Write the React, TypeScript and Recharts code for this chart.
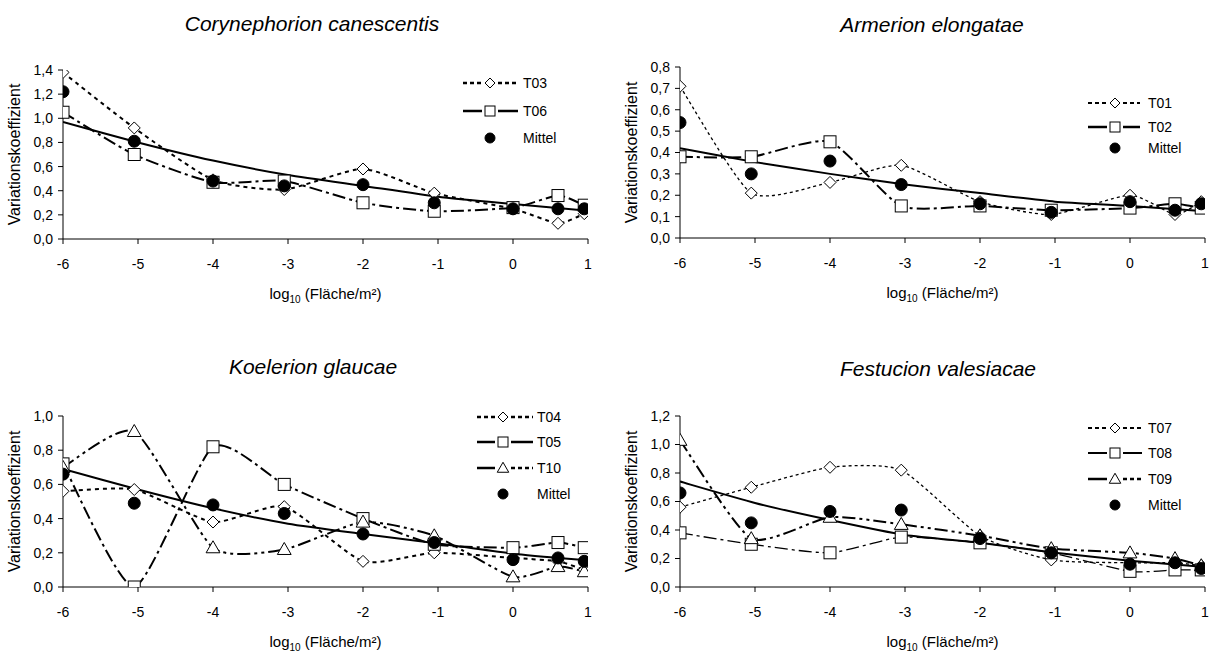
import React from 'react';
import { LineChart, Line, XAxis, YAxis } from 'recharts';

const FONT = '"Liberation Sans", Arial, Helvetica, sans-serif';

// x positions of the sampled plot sizes (log10 area)
const xs = [-6, -5.05, -4, -3.05, -2, -1.05, 0, 0.6, 0.95];
const fitXs = [-6, -5, -4, -3, -2, -1, 0, 1];
const xTicks = [-6, -5, -4, -3, -2, -1, 0, 1];

// Panel 1: Corynephorion canescentis
const t03 = [1.38, 0.92, 0.49, 0.41, 0.58, 0.38, 0.25, 0.13, 0.21];
const t06 = [1.05, 0.7, 0.47, 0.48, 0.3, 0.23, 0.26, 0.36, 0.28];
const mittel1 = [1.22, 0.81, 0.48, 0.44, 0.45, 0.3, 0.25, 0.25, 0.25];
const fit1 = [0.97, 0.8, 0.65, 0.53, 0.44, 0.35, 0.29, 0.235];
const yTicks1 = [0, 0.2, 0.4, 0.6, 0.8, 1.0, 1.2, 1.4];

// Panel 2: Armerion elongatae
const t01 = [0.71, 0.21, 0.26, 0.34, 0.17, 0.11, 0.2, 0.11, 0.17];
const t02 = [0.38, 0.38, 0.45, 0.15, 0.15, 0.13, 0.14, 0.16, 0.14];
const mittel2 = [0.54, 0.3, 0.36, 0.25, 0.16, 0.12, 0.17, 0.13, 0.16];
const fit2 = [0.42, 0.355, 0.3, 0.25, 0.21, 0.17, 0.15, 0.125];
const yTicks2 = [0, 0.1, 0.2, 0.3, 0.4, 0.5, 0.6, 0.7, 0.8];

// Panel 3: Koelerion glaucae
const t04 = [0.56, 0.57, 0.38, 0.47, 0.15, 0.2, 0.17, 0.15, 0.1];
const t05 = [0.72, 0.0, 0.82, 0.6, 0.4, 0.25, 0.23, 0.26, 0.23];
const t10 = [0.7, 0.91, 0.23, 0.22, 0.38, 0.3, 0.06, 0.12, 0.09];
const mittel3 = [0.66, 0.49, 0.48, 0.43, 0.31, 0.26, 0.16, 0.17, 0.15];
const fit3 = [0.69, 0.57, 0.46, 0.37, 0.31, 0.255, 0.195, 0.155];
const yTicks3 = [0, 0.2, 0.4, 0.6, 0.8, 1.0];

// Panel 4: Festucion valesiacae
const t07 = [0.56, 0.7, 0.84, 0.82, 0.36, 0.19, 0.17, 0.17, 0.15];
const t08 = [0.38, 0.3, 0.24, 0.35, 0.31, 0.24, 0.11, 0.12, 0.12];
const t09 = [1.03, 0.34, 0.49, 0.44, 0.36, 0.27, 0.24, 0.2, 0.15];
const mittel4 = [0.66, 0.45, 0.53, 0.54, 0.34, 0.24, 0.16, 0.17, 0.13];
const fit4 = [0.74, 0.59, 0.47, 0.365, 0.31, 0.24, 0.185, 0.14];
const yTicks4 = [0, 0.2, 0.4, 0.6, 0.8, 1.0, 1.2];

type Shape = 'diamond' | 'square' | 'triangle' | 'circle';

interface Series {
  name: string;
  values: number[];
  shape: Shape;
  dash?: string;
  width: number;
  legLeft: string;
  legRight: string;
}

interface Panel {
  title: string;
  titleX: number;
  titleY: number;
  left: number;
  top: number;
  width: number;
  height: number;
  margin: { top: number; right: number; bottom: number; left: number };
  yMax: number;
  yTicks: number[];
  series: Series[];
  mittel: number[];
  fit: number[];
  leg: { rows: number[]; x0: number; x1: number; mx: number; tx: number };
}

const toPts = (x: number[], y: number[]) => x.map((v, i) => ({ x: v, y: y[i] }));

// Mildly smoothed line through the points (spreadsheet-like)
const smoothCurve: any = (context: any) => {
  let pts: number[][] = [];
  return {
    areaStart() {},
    areaEnd() {},
    lineStart() {
      pts = [];
    },
    point(x: number, y: number) {
      pts.push([+x, +y]);
    },
    lineEnd() {
      const n = pts.length;
      if (!n) return;
      context.moveTo(pts[0][0], pts[0][1]);
      for (let i = 0; i < n - 1; i++) {
        const p0 = pts[Math.max(i - 1, 0)];
        const p1 = pts[i];
        const p2 = pts[i + 1];
        const p3 = pts[Math.min(i + 2, n - 1)];
        const t = 10;
        context.bezierCurveTo(
          p1[0] + (p2[0] - p0[0]) / t,
          p1[1] + (p2[1] - p0[1]) / t,
          p2[0] - (p3[0] - p1[0]) / t,
          p2[1] - (p3[1] - p1[1]) / t,
          p2[0],
          p2[1]
        );
      }
    },
  };
};

function markerEl(shape: Shape, cx: number, cy: number, s: number, key?: string) {
  if (shape === 'diamond') {
    return (
      <path key={key} d={`M${cx},${cy - s} L${cx + s},${cy} L${cx},${cy + s} L${cx - s},${cy} Z`} fill="#fff" stroke="#000" strokeWidth={1} />
    );
  }
  if (shape === 'square') {
    return <rect key={key} x={cx - s} y={cy - s} width={2 * s} height={2 * s} fill="#fff" stroke="#000" strokeWidth={1} />;
  }
  if (shape === 'triangle') {
    const h = s * 1.15;
    return (
      <path key={key} d={`M${cx},${cy - h} L${cx + h},${cy + s * 0.85} L${cx - h},${cy + s * 0.85} Z`} fill="#fff" stroke="#000" strokeWidth={1} />
    );
  }
  return <circle key={key} cx={cx} cy={cy} r={s} fill="#000" stroke="#000" strokeWidth={1} />;
}

const makeDot = (shape: Shape, s: number) => (props: any) => {
  const { cx, cy, index } = props;
  const key = `${shape}-${index}`;
  if (cx == null || cy == null) return <g key={key} />;
  return markerEl(shape, cx, cy, s, key);
};

const DIAMOND_DASH = '4 4';
const SQUARE_DASH = '13 4 3 4';
const TRI_DASH = '13 4 3 4 3 4';

const panels: Panel[] = [
  {
    title: 'Corynephorion canescentis',
    titleX: 312,
    titleY: 31,
    left: 0,
    top: 0,
    width: 606,
    height: 326,
    margin: { top: 70, right: 18, bottom: 27, left: 0 },
    yMax: 1.4,
    yTicks: yTicks1,
    series: [
      { name: 'T03', values: t03, shape: 'diamond', dash: DIAMOND_DASH, width: 2, legLeft: 'dash', legRight: 'dash' },
      { name: 'T06', values: t06, shape: 'square', dash: SQUARE_DASH, width: 2, legLeft: 'solid', legRight: 'solid' },
    ],
    mittel: mittel1,
    fit: fit1,
    leg: { rows: [83, 111, 138], x0: 463, x1: 518, mx: 490, tx: 523 },
  },
  {
    title: 'Armerion elongatae',
    titleX: 932,
    titleY: 32,
    left: 617,
    top: 0,
    width: 596,
    height: 326,
    margin: { top: 67, right: 8, bottom: 28, left: 0 },
    yMax: 0.8,
    yTicks: yTicks2,
    series: [
      { name: 'T01', values: t01, shape: 'diamond', dash: '3 3', width: 1.3, legLeft: 'dash', legRight: 'dash' },
      { name: 'T02', values: t02, shape: 'square', dash: SQUARE_DASH, width: 2, legLeft: 'solid', legRight: 'solid' },
    ],
    mittel: mittel2,
    fit: fit2,
    leg: { rows: [103, 127, 148], x0: 1088, x1: 1140, mx: 1115, tx: 1148 },
  },
  {
    title: 'Koelerion glaucae',
    titleX: 313,
    titleY: 374,
    left: 0,
    top: 346,
    width: 606,
    height: 306,
    margin: { top: 70, right: 18, bottom: 5, left: 0 },
    yMax: 1.0,
    yTicks: yTicks3,
    series: [
      { name: 'T04', values: t04, shape: 'diamond', dash: DIAMOND_DASH, width: 2, legLeft: 'dash', legRight: 'dash' },
      { name: 'T05', values: t05, shape: 'square', dash: SQUARE_DASH, width: 2, legLeft: 'solid', legRight: 'solid' },
      { name: 'T10', values: t10, shape: 'triangle', dash: TRI_DASH, width: 2, legLeft: 'solid', legRight: 'dash' },
    ],
    mittel: mittel3,
    fit: fit3,
    leg: { rows: [417, 442, 468, 494], x0: 477, x1: 533, mx: 503, tx: 537 },
  },
  {
    title: 'Festucion valesiacae',
    titleX: 938,
    titleY: 376,
    left: 617,
    top: 346,
    width: 596,
    height: 306,
    margin: { top: 70, right: 8, bottom: 5, left: 0 },
    yMax: 1.2,
    yTicks: yTicks4,
    series: [
      { name: 'T07', values: t07, shape: 'diamond', dash: '3 3', width: 1.3, legLeft: 'dash', legRight: 'dash' },
      { name: 'T08', values: t08, shape: 'square', dash: SQUARE_DASH, width: 1.3, legLeft: 'solid', legRight: 'solid' },
      { name: 'T09', values: t09, shape: 'triangle', dash: TRI_DASH, width: 2, legLeft: 'solid', legRight: 'dash' },
    ],
    mittel: mittel4,
    fit: fit4,
    leg: { rows: [428, 453, 479, 505], x0: 1088, x1: 1142, mx: 1115, tx: 1148 },
  },
];

const fmtY = (v: number) => v.toFixed(1).replace('.', ',');

const XLabel = (props: any) => {
  const vb = props.viewBox || {};
  const cx = (vb.x || 0) + (vb.width || 0) / 2;
  const y = (vb.y || 0) + 60;
  return (
    <text x={cx} y={y} textAnchor="middle" fontFamily={FONT} fontSize={15} fill="#000">
      log
      <tspan fontSize={10} dy={4}>10</tspan>
      <tspan dy={-4}> (Fläche/m²)</tspan>
    </text>
  );
};

const YLabel = (props: any) => {
  const vb = props.viewBox || {};
  const x = (vb.x || 0) + 20;
  const cy = (vb.y || 0) + (vb.height || 0) / 2;
  return (
    <text x={x} y={cy} transform={`rotate(-90 ${x} ${cy})`} textAnchor="middle" fontFamily={FONT} fontSize={16} fill="#000">
      Variationskoeffizient
    </text>
  );
};

function PanelChart({ p }: { p: Panel }) {
  return (
    <div style={{ position: 'absolute', left: p.left, top: p.top, width: p.width, height: p.height }}>
      <LineChart width={p.width} height={p.height} margin={p.margin}>
        <XAxis
          type="number"
          dataKey="x"
          domain={[-6, 1]}
          ticks={xTicks}
          interval={0}
          allowDataOverflow
          height={60}
          tickSize={5}
          tickMargin={15}
          axisLine={{ stroke: '#000', strokeWidth: 1 }}
          tickLine={{ stroke: '#000', strokeWidth: 1 }}
          tick={{ fill: '#000', fontSize: 14, fontFamily: FONT }}
          label={<XLabel />}
        />
        <YAxis
          type="number"
          dataKey="y"
          domain={[0, p.yMax]}
          ticks={p.yTicks}
          interval={0}
          allowDataOverflow
          width={63}
          tickSize={5}
          tickMargin={5}
          tickFormatter={fmtY}
          axisLine={{ stroke: '#000', strokeWidth: 1 }}
          tickLine={{ stroke: '#000', strokeWidth: 1 }}
          tick={{ fill: '#000', fontSize: 14, fontFamily: FONT }}
          label={<YLabel />}
        />
        <Line
          data={toPts(fitXs, p.fit)}
          dataKey="y"
          type={smoothCurve}
          stroke="#000"
          strokeWidth={2}
          dot={false}
          activeDot={false}
          isAnimationActive={false}
          name="fit"
        />
        {p.series.map((s) => (
          <Line
            key={s.name}
            data={toPts(xs, s.values)}
            dataKey="y"
            name={s.name}
            type={smoothCurve}
            stroke="#000"
            strokeWidth={s.width}
            strokeDasharray={s.dash}
            dot={makeDot(s.shape, 6)}
            activeDot={false}
            isAnimationActive={false}
          />
        ))}
        <Line
          data={toPts(xs, p.mittel)}
          dataKey="y"
          name="Mittel"
          type="linear"
          stroke="none"
          dot={makeDot('circle', 6)}
          activeDot={false}
          isAnimationActive={false}
        />
      </LineChart>
    </div>
  );
}

function LegendRows({ p }: { p: Panel }) {
  const { rows, x0, x1, mx, tx } = p.leg;
  const items = [
    ...p.series.map((s) => ({ name: s.name, shape: s.shape, left: s.legLeft, right: s.legRight, w: s.width })),
    { name: 'Mittel', shape: 'circle' as Shape, left: 'none', right: 'none', w: 0 },
  ];
  const seg = (style: string, a: number, b: number, y: number, w: number, k: string) => {
    if (style === 'none') return null;
    return (
      <line
        key={k}
        x1={a}
        y1={y}
        x2={b}
        y2={y}
        stroke="#000"
        strokeWidth={Math.max(w, 1.5) + 0.5}
        strokeDasharray={style === 'dash' ? '4 3' : undefined}
      />
    );
  };
  return (
    <g>
      {items.map((it, i) => {
        const y = rows[i];
        return (
          <g key={it.name}>
            {seg(it.left, x0, mx - 8, y, it.w, 'l')}
            {seg(it.right, mx + 8, x1, y, it.w, 'r')}
            {markerEl(it.shape, mx, y, 5)}
            <text x={tx} y={y + 5} fontFamily={FONT} fontSize={14} fill="#000">
              {it.name}
            </text>
          </g>
        );
      })}
    </g>
  );
}

export default function App() {
  return (
    <div style={{ position: 'absolute', left: 0, top: 0, width: 1213, height: 652, background: '#fff', overflow: 'hidden' }}>
      {panels.map((p) => (
        <PanelChart key={p.title} p={p} />
      ))}
      <svg width={1213} height={652} style={{ position: 'absolute', left: 0, top: 0, pointerEvents: 'none' }}>
        {panels.map((p) => (
          <g key={p.title}>
            <text x={p.titleX} y={p.titleY} textAnchor="middle" fontFamily={FONT} fontSize={21} fontStyle="italic" fill="#000">
              {p.title}
            </text>
            <LegendRows p={p} />
          </g>
        ))}
      </svg>
    </div>
  );
}
